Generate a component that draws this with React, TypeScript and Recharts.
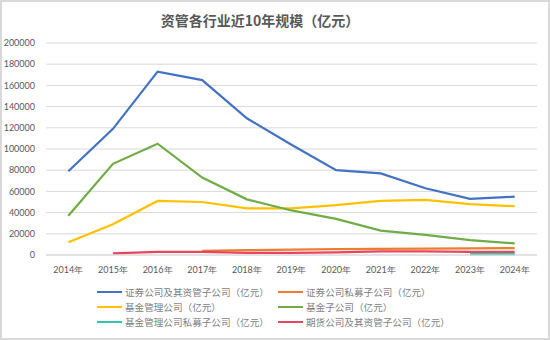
import { LineChart, Line, XAxis, YAxis, CartesianGrid, Legend } from 'recharts';

const years = ['2014年', '2015年', '2016年', '2017年', '2018年', '2019年', '2020年', '2021年', '2022年', '2023年', '2024年'];

const secCompanies = [79000, 119000, 173000, 165000, 129000, 104000, 80000, 77000, 63000, 53000, 55000];
const secPrivate = [null, null, null, 4000, 4500, 5000, 5500, 5800, 6000, 6200, 6500];
const fundMgmt = [12000, 29000, 51000, 50000, 44000, 44000, 47000, 51000, 52000, 48000, 46000];
const fundSubs = [37000, 86000, 105000, 73000, 52500, 42000, 34000, 23000, 19000, 14000, 11000];
const fundPrivate = [null, null, null, null, null, null, null, null, null, 800, 800];
const futures = [null, 1500, 3000, 3000, 2000, 2000, 2500, 3500, 3500, 3000, 3000];

const yTicks = [0, 20000, 40000, 60000, 80000, 100000, 120000, 140000, 160000, 180000, 200000];

const series = [
    { key: 'secCompanies', name: '证券公司及其资管子公司（亿元）', color: '#4472C4', values: secCompanies },
    { key: 'secPrivate', name: '证券公司私募子公司（亿元）', color: '#ED7D31', values: secPrivate },
    { key: 'fundMgmt', name: '基金管理公司（亿元）', color: '#FFC000', values: fundMgmt },
    { key: 'fundSubs', name: '基金子公司（亿元）', color: '#70AD47', values: fundSubs },
    { key: 'fundPrivate', name: '基金管理公司私募子公司（亿元）', color: '#33C6AE', values: fundPrivate },
    { key: 'futures', name: '期货公司及其资管子公司（亿元）', color: '#E8465E', values: futures },
];

const data = years.map((year, i) => {
    const row: Record<string, string | number | null> = { year };
    series.forEach(s => { row[s.key] = s.values[i]; });
    return row;
});

const tickStyle = { fontFamily: 'Lato, sans-serif', fontSize: 9, fill: '#595959' };

const renderLegend = () => (
    <div style={{ display: 'grid', gridTemplateColumns: '181px 200px', rowGap: 0, marginLeft: 95 }}>
        {series.map(s => (
            <div key={s.key} style={{ display: 'flex', alignItems: 'center', height: 15 }}>
                <span style={{ display: 'inline-block', width: 25, height: 2, background: s.color, marginRight: 3 }} />
                <span style={{ fontFamily: '"Noto Sans CJK SC", sans-serif', fontSize: 9.6, color: '#7f7f7f', whiteSpace: 'nowrap' }}>{s.name}</span>
            </div>
        ))}
    </div>
);

export default function App() {
    return (
        <div style={{ position: 'absolute', left: 0, top: 0, width: 550, height: 340, background: '#fff', border: '2px solid #d9d9d9', boxSizing: 'border-box' }}>
            <div style={{
                position: 'absolute', left: 0, width: 516, top: 8, textAlign: 'center',
                fontFamily: '"Noto Sans CJK SC", sans-serif', fontSize: 14, fontWeight: 'bold', color: '#595959'
            }}>
                资管各行业近10年规模（亿元）
            </div>
            <LineChart
                width={546}
                height={336}
                data={data}
                margin={{ top: 41, right: 11, bottom: 63, left: 0 }}
                style={{ position: 'absolute', left: 0, top: 0 }}
            >
                <CartesianGrid vertical={false} stroke="#d9d9d9" />
                <XAxis
                    dataKey="year"
                    scale="band"
                    axisLine={{ stroke: '#d9d9d9' }}
                    tickLine={false}
                    tick={tickStyle}
                    tickMargin={6}
                    height={20}
                    interval={0}
                />
                <YAxis
                    domain={[0, 200000]}
                    ticks={yTicks}
                    axisLine={false}
                    tickLine={false}
                    tick={tickStyle}
                    tickMargin={5}
                    width={44}
                    interval={0}
                />
                <Legend
                    layout="horizontal"
                    verticalAlign="middle"
                    align="center"
                    content={renderLegend}
                    wrapperStyle={{ position: 'absolute', top: 282, left: 0, width: 546 }}
                />
                {series.map(s => (
                    <Line
                        key={s.key}
                        type="linear"
                        dataKey={s.key}
                        name={s.name}
                        stroke={s.color}
                        strokeWidth={2.25}
                        dot={false}
                        activeDot={false}
                        isAnimationActive={false}
                    />
                ))}
            </LineChart>
        </div>
    );
}
